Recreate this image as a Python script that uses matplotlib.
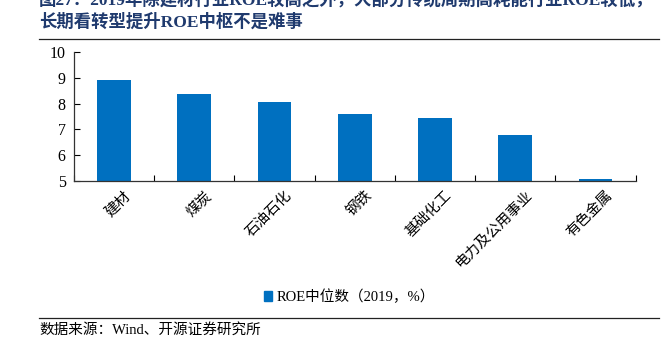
import matplotlib.pyplot as plt
import numpy as np
from matplotlib.lines import Line2D
from matplotlib.patches import Patch

plt.rcParams['font.family'] = ['Liberation Serif', 'Noto Sans CJK SC', 'DejaVu Sans']

industries = ["建材", "煤炭", "石油石化", "钢铁", "基础化工", "电力及公用事业", "有色金属"]
roe_median = [8.92, 8.38, 8.08, 7.58, 7.45, 6.78, 5.08]
y_ticks = [5, 6, 7, 8, 9, 10]

bar_color = "#0070C0"
title_color = "#1F3A6E"

fig = plt.figure(figsize=(6.72, 3.52), dpi=100)
ax = fig.add_axes([0.110, 0.486, 0.836, 0.366])

x = np.arange(len(industries))
ax.bar(x, roe_median, width=0.42, color=bar_color)

ax.set_ylim(5, 10)
ax.set_xlim(-0.5, len(industries) - 0.5)
ax.set_yticks(y_ticks)
ax.set_yticklabels([str(v) for v in y_ticks], fontsize=11.5)

# tick marks sit at category boundaries, names drawn separately
ax.set_xticks(np.arange(len(industries) + 1) - 0.5)
ax.set_xticklabels([])
ax.tick_params(axis='x', direction='in', length=4, width=0.8)
ax.tick_params(axis='y', direction='in', length=4, width=0.8, pad=6)
for xi, name in zip(x, industries):
    ax.text(xi + 0.12, 4.72, name, rotation=45, ha='right', va='top',
            rotation_mode='anchor', fontsize=10.5, family=['Noto Sans CJK SC'])

for side in ['top', 'right']:
    ax.spines[side].set_visible(False)
for side in ['left', 'bottom']:
    ax.spines[side].set_linewidth(0.9)
    ax.spines[side].set_color('#333333')

# title (first line partly cut off at the top, as in the source)
fig.text(0.058, 1.0, "图27：2019年除建材行业ROE较高之外，大部分传统周期高耗能行业ROE较低，",
         fontsize=12.5, fontweight='bold', color=title_color, va='center', ha='left')
fig.text(0.058, 0.937, "长期看转型提升ROE中枢不是难事",
         fontsize=12.5, fontweight='bold', color=title_color, va='center', ha='left')
fig.add_artist(Line2D([0.058, 0.98], [0.889, 0.889], color='#222222', lw=0.9))

# legend
fig.legend(handles=[Patch(color=bar_color, label="ROE中位数（2019，%）")],
           loc='center', bbox_to_anchor=(0.52, 0.157), frameon=False,
           fontsize=10.5, handlelength=0.6, handleheight=0.6, handletextpad=0.3)

# source
fig.add_artist(Line2D([0.058, 0.98], [0.097, 0.097], color='#222222', lw=0.9))
fig.text(0.058, 0.062, "数据来源：Wind、开源证券研究所", fontsize=10.5, va='center', ha='left')

fig.savefig("out.png", dpi=100)
